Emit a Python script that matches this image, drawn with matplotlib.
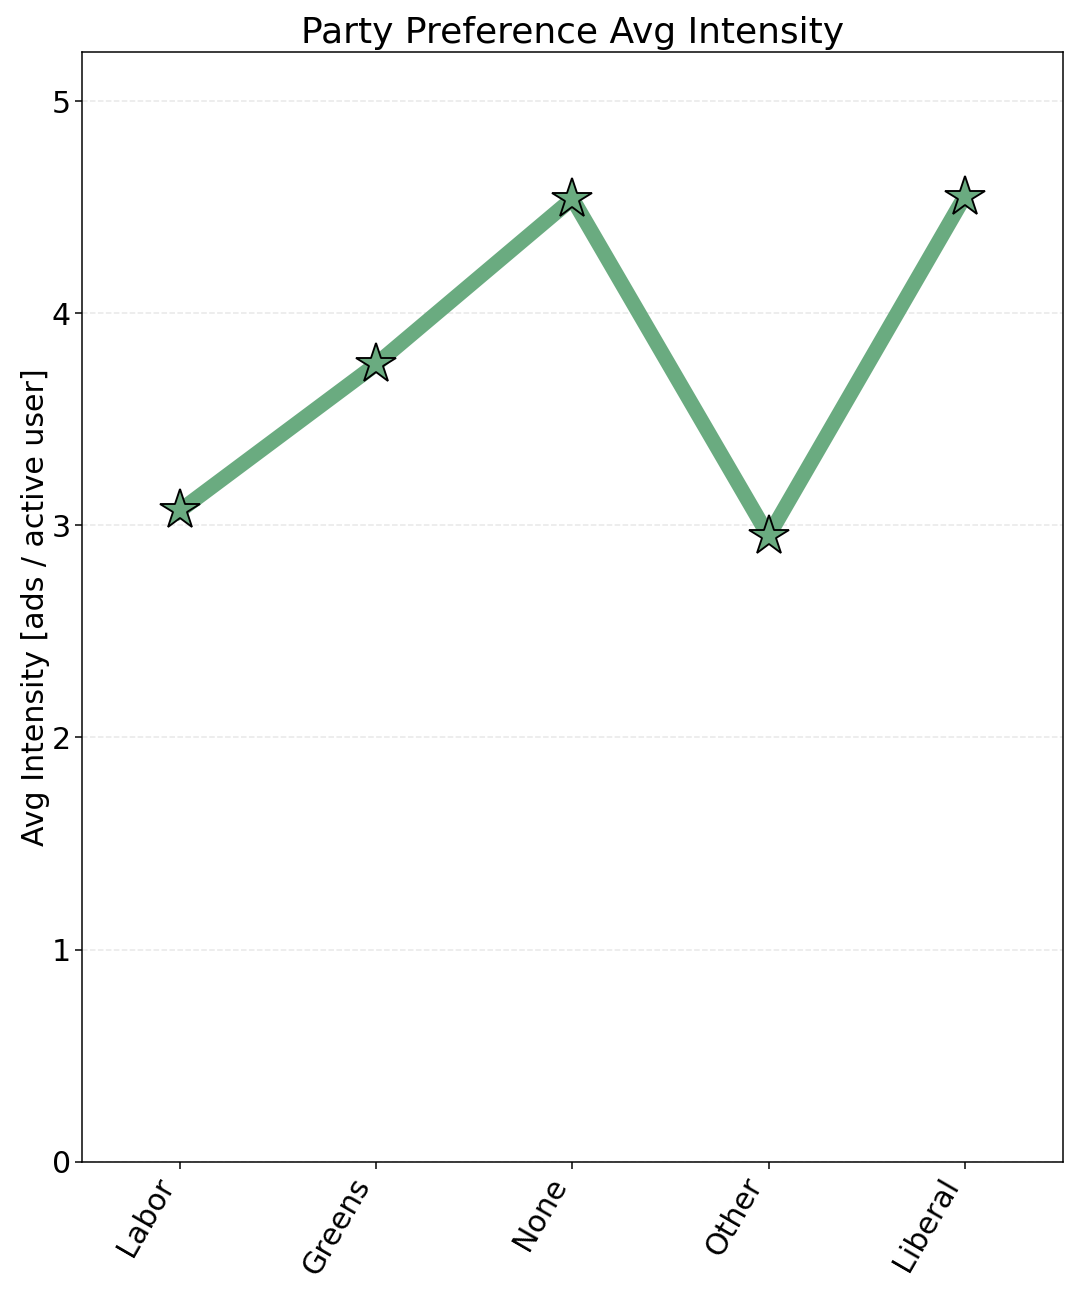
import matplotlib
matplotlib.use('Agg')
import matplotlib.pyplot as plt

# party preference data
parties = ['Labor', 'Greens', 'None', 'Other', 'Liberal']
avg_intensity = [3.07, 3.76, 4.54, 2.95, 4.55]

line_color = '#6aab80'
s = 1.35  # figure was drawn at a larger dpi, scale sizes to match

fig, ax = plt.subplots(figsize=(10.8, 12.95), dpi=100)
x = list(range(len(parties)))
ax.plot(x, avg_intensity, color=line_color, lw=8 * s, marker='*', markersize=22 * s,
        markerfacecolor=line_color, markeredgecolor='black', markeredgewidth=1 * s)

ax.set_xticks(x)
ax.set_xticklabels(parties, rotation=60, ha='right', fontsize=16 * s)
ax.tick_params(axis='y', labelsize=16 * s)
ax.tick_params(length=3.5 * s, width=0.8 * s, pad=2.5 * s)
for sp in ax.spines.values():
    sp.set_linewidth(0.8 * s)
ax.set_ylim(0, max(avg_intensity) * 1.15)
ax.set_xlim(-0.5, len(parties) - 0.5)
ax.set_ylabel('Avg Intensity [ads / active user]', fontsize=16 * s, labelpad=1 * s)
ax.set_title('Party Preference Avg Intensity', fontsize=19.2 * s, pad=4.5 * s)
ax.grid(axis='y', linestyle='--', alpha=0.3, lw=0.8 * s)
ax.set_axisbelow(True)

plt.subplots_adjust(left=0.076, right=0.984, top=0.96, bottom=0.103)
plt.savefig('out.png')
